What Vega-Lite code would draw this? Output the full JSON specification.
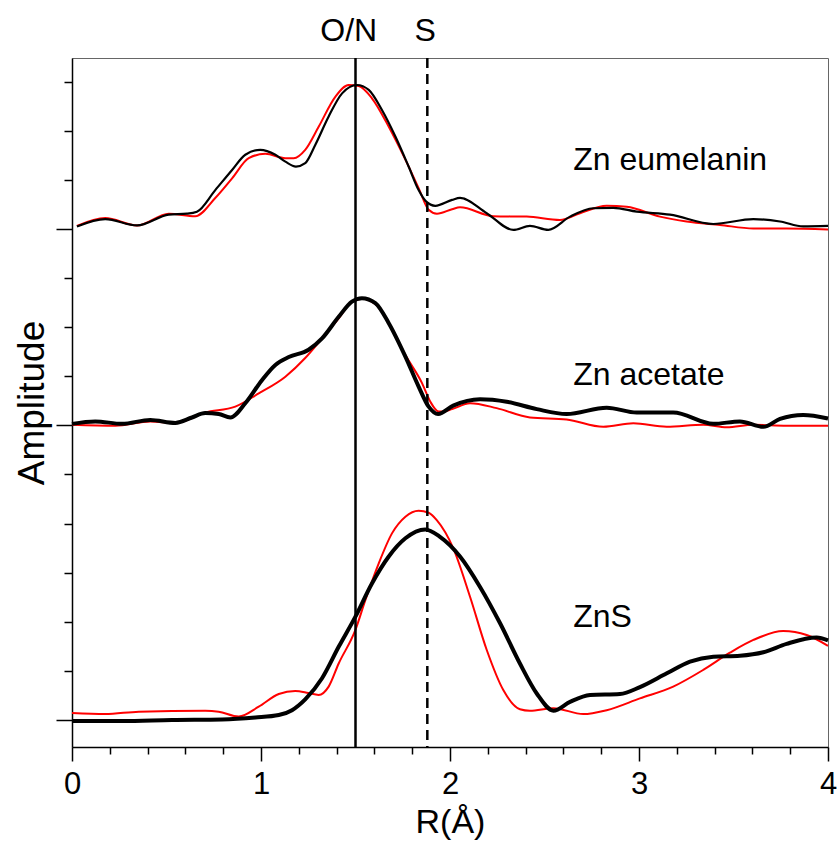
{
  "$schema": "https://vega.github.io/schema/vega-lite/v6.json",
  "width": 756,
  "height": 689,
  "autosize": {"type": "none"},
  "padding": {"left": 72, "top": 58, "right": 10, "bottom": 96},
  "config": {"font": "Liberation Sans", "view": {"stroke": "#666", "strokeWidth": 1}},
  "datasets": {
    "curves": [
      {"s":"eumelanin","k":"data","r":0.026,"a":10.05},{"s":"eumelanin","k":"data","r":0.176,"a":10.20},{"s":"eumelanin","k":"data","r":0.344,"a":10.07},{"s":"eumelanin","k":"data","r":0.512,"a":10.29},{"s":"eumelanin","k":"data","r":0.608,"a":10.31},{"s":"eumelanin","k":"data","r":0.661,"a":10.35},{"s":"eumelanin","k":"data","r":0.758,"a":10.79},{"s":"eumelanin","k":"data","r":0.847,"a":11.20},{"s":"eumelanin","k":"data","r":0.917,"a":11.51},{"s":"eumelanin","k":"data","r":0.996,"a":11.61},{"s":"eumelanin","k":"data","r":1.076,"a":11.51},{"s":"eumelanin","k":"data","r":1.129,"a":11.37},{"s":"eumelanin","k":"data","r":1.185,"a":11.27},{"s":"eumelanin","k":"data","r":1.234,"a":11.34},{"s":"eumelanin","k":"data","r":1.287,"a":11.71},{"s":"eumelanin","k":"data","r":1.358,"a":12.29},{"s":"eumelanin","k":"data","r":1.429,"a":12.76},{"s":"eumelanin","k":"data","r":1.508,"a":12.93},{"s":"eumelanin","k":"data","r":1.570,"a":12.83},{"s":"eumelanin","k":"data","r":1.640,"a":12.42},{"s":"eumelanin","k":"data","r":1.711,"a":11.88},{"s":"eumelanin","k":"data","r":1.781,"a":11.27},{"s":"eumelanin","k":"data","r":1.834,"a":10.79},{"s":"eumelanin","k":"data","r":1.873,"a":10.56},{"s":"eumelanin","k":"data","r":1.922,"a":10.47},{"s":"eumelanin","k":"data","r":2.011,"a":10.59},{"s":"eumelanin","k":"data","r":2.053,"a":10.63},{"s":"eumelanin","k":"data","r":2.194,"a":10.32},{"s":"eumelanin","k":"data","r":2.335,"a":9.98},{"s":"eumelanin","k":"data","r":2.423,"a":10.06},{"s":"eumelanin","k":"data","r":2.520,"a":9.98},{"s":"eumelanin","k":"data","r":2.635,"a":10.25},{"s":"eumelanin","k":"data","r":2.758,"a":10.42},{"s":"eumelanin","k":"data","r":2.864,"a":10.43},{"s":"eumelanin","k":"data","r":2.988,"a":10.35},{"s":"eumelanin","k":"data","r":3.164,"a":10.29},{"s":"eumelanin","k":"data","r":3.393,"a":10.10},{"s":"eumelanin","k":"data","r":3.605,"a":10.20},{"s":"eumelanin","k":"data","r":3.746,"a":10.15},{"s":"eumelanin","k":"data","r":3.869,"a":10.05},{"s":"eumelanin","k":"data","r":4.0,"a":10.06},
      {"s":"eumelanin","k":"fit","r":0.026,"a":10.06},{"s":"eumelanin","k":"fit","r":0.176,"a":10.22},{"s":"eumelanin","k":"fit","r":0.344,"a":10.07},{"s":"eumelanin","k":"fit","r":0.512,"a":10.31},{"s":"eumelanin","k":"fit","r":0.652,"a":10.26},{"s":"eumelanin","k":"fit","r":0.758,"a":10.63},{"s":"eumelanin","k":"fit","r":0.847,"a":11.03},{"s":"eumelanin","k":"fit","r":0.935,"a":11.44},{"s":"eumelanin","k":"fit","r":1.023,"a":11.53},{"s":"eumelanin","k":"fit","r":1.129,"a":11.44},{"s":"eumelanin","k":"fit","r":1.173,"a":11.44},{"s":"eumelanin","k":"fit","r":1.234,"a":11.61},{"s":"eumelanin","k":"fit","r":1.305,"a":12.08},{"s":"eumelanin","k":"fit","r":1.393,"a":12.69},{"s":"eumelanin","k":"fit","r":1.464,"a":12.93},{"s":"eumelanin","k":"fit","r":1.517,"a":12.91},{"s":"eumelanin","k":"fit","r":1.587,"a":12.66},{"s":"eumelanin","k":"fit","r":1.676,"a":12.08},{"s":"eumelanin","k":"fit","r":1.764,"a":11.41},{"s":"eumelanin","k":"fit","r":1.834,"a":10.83},{"s":"eumelanin","k":"fit","r":1.887,"a":10.39},{"s":"eumelanin","k":"fit","r":1.931,"a":10.31},{"s":"eumelanin","k":"fit","r":2.011,"a":10.40},{"s":"eumelanin","k":"fit","r":2.053,"a":10.44},{"s":"eumelanin","k":"fit","r":2.229,"a":10.26},{"s":"eumelanin","k":"fit","r":2.406,"a":10.25},{"s":"eumelanin","k":"fit","r":2.582,"a":10.18},{"s":"eumelanin","k":"fit","r":2.688,"a":10.32},{"s":"eumelanin","k":"fit","r":2.829,"a":10.47},{"s":"eumelanin","k":"fit","r":2.935,"a":10.45},{"s":"eumelanin","k":"fit","r":3.111,"a":10.25},{"s":"eumelanin","k":"fit","r":3.252,"a":10.15},{"s":"eumelanin","k":"fit","r":3.429,"a":10.08},{"s":"eumelanin","k":"fit","r":3.605,"a":10.01},{"s":"eumelanin","k":"fit","r":3.781,"a":10.01},{"s":"eumelanin","k":"fit","r":4.0,"a":9.99},
      {"s":"acetate","k":"data","r":0,"a":6.03},{"s":"acetate","k":"data","r":0.123,"a":6.08},{"s":"acetate","k":"data","r":0.265,"a":6.03},{"s":"acetate","k":"data","r":0.414,"a":6.11},{"s":"acetate","k":"data","r":0.547,"a":6.05},{"s":"acetate","k":"data","r":0.635,"a":6.16},{"s":"acetate","k":"data","r":0.705,"a":6.25},{"s":"acetate","k":"data","r":0.776,"a":6.23},{"s":"acetate","k":"data","r":0.838,"a":6.16},{"s":"acetate","k":"data","r":0.917,"a":6.45},{"s":"acetate","k":"data","r":1.005,"a":6.92},{"s":"acetate","k":"data","r":1.076,"a":7.23},{"s":"acetate","k":"data","r":1.147,"a":7.39},{"s":"acetate","k":"data","r":1.252,"a":7.54},{"s":"acetate","k":"data","r":1.323,"a":7.77},{"s":"acetate","k":"data","r":1.411,"a":8.21},{"s":"acetate","k":"data","r":1.481,"a":8.52},{"s":"acetate","k":"data","r":1.534,"a":8.59},{"s":"acetate","k":"data","r":1.605,"a":8.49},{"s":"acetate","k":"data","r":1.676,"a":8.08},{"s":"acetate","k":"data","r":1.764,"a":7.40},{"s":"acetate","k":"data","r":1.834,"a":6.79},{"s":"acetate","k":"data","r":1.887,"a":6.38},{"s":"acetate","k":"data","r":1.937,"a":6.23},{"s":"acetate","k":"data","r":2.017,"a":6.40},{"s":"acetate","k":"data","r":2.159,"a":6.53},{"s":"acetate","k":"data","r":2.300,"a":6.48},{"s":"acetate","k":"data","r":2.459,"a":6.33},{"s":"acetate","k":"data","r":2.617,"a":6.23},{"s":"acetate","k":"data","r":2.829,"a":6.36},{"s":"acetate","k":"data","r":2.988,"a":6.26},{"s":"acetate","k":"data","r":3.181,"a":6.26},{"s":"acetate","k":"data","r":3.393,"a":6.03},{"s":"acetate","k":"data","r":3.534,"a":6.08},{"s":"acetate","k":"data","r":3.658,"a":5.97},{"s":"acetate","k":"data","r":3.746,"a":6.13},{"s":"acetate","k":"data","r":3.869,"a":6.21},{"s":"acetate","k":"data","r":4.0,"a":6.14},
      {"s":"acetate","k":"fit","r":0,"a":6.01},{"s":"acetate","k":"fit","r":0.229,"a":5.99},{"s":"acetate","k":"fit","r":0.414,"a":6.08},{"s":"acetate","k":"fit","r":0.547,"a":6.05},{"s":"acetate","k":"fit","r":0.705,"a":6.26},{"s":"acetate","k":"fit","r":0.864,"a":6.38},{"s":"acetate","k":"fit","r":0.988,"a":6.65},{"s":"acetate","k":"fit","r":1.129,"a":6.99},{"s":"acetate","k":"fit","r":1.234,"a":7.37},{"s":"acetate","k":"fit","r":1.323,"a":7.77},{"s":"acetate","k":"fit","r":1.411,"a":8.18},{"s":"acetate","k":"fit","r":1.481,"a":8.52},{"s":"acetate","k":"fit","r":1.534,"a":8.58},{"s":"acetate","k":"fit","r":1.605,"a":8.47},{"s":"acetate","k":"fit","r":1.676,"a":8.08},{"s":"acetate","k":"fit","r":1.764,"a":7.43},{"s":"acetate","k":"fit","r":1.852,"a":6.86},{"s":"acetate","k":"fit","r":1.896,"a":6.48},{"s":"acetate","k":"fit","r":1.940,"a":6.28},{"s":"acetate","k":"fit","r":1.965,"a":6.28},{"s":"acetate","k":"fit","r":2.011,"a":6.33},{"s":"acetate","k":"fit","r":2.106,"a":6.45},{"s":"acetate","k":"fit","r":2.247,"a":6.35},{"s":"acetate","k":"fit","r":2.423,"a":6.16},{"s":"acetate","k":"fit","r":2.617,"a":6.12},{"s":"acetate","k":"fit","r":2.811,"a":5.97},{"s":"acetate","k":"fit","r":2.970,"a":6.04},{"s":"acetate","k":"fit","r":3.146,"a":5.97},{"s":"acetate","k":"fit","r":3.340,"a":6.01},{"s":"acetate","k":"fit","r":3.464,"a":5.96},{"s":"acetate","k":"fit","r":3.605,"a":6.01},{"s":"acetate","k":"fit","r":3.781,"a":5.99},{"s":"acetate","k":"fit","r":4.0,"a":5.99},
      {"s":"ZnS","k":"data","r":0,"a":-0.02},{"s":"ZnS","k":"data","r":0.265,"a":-0.02},{"s":"ZnS","k":"data","r":0.529,"a":0.0},{"s":"ZnS","k":"data","r":0.794,"a":0.01},{"s":"ZnS","k":"data","r":0.970,"a":0.05},{"s":"ZnS","k":"data","r":1.094,"a":0.10},{"s":"ZnS","k":"data","r":1.164,"a":0.20},{"s":"ZnS","k":"data","r":1.234,"a":0.42},{"s":"ZnS","k":"data","r":1.323,"a":0.85},{"s":"ZnS","k":"data","r":1.411,"a":1.49},{"s":"ZnS","k":"data","r":1.499,"a":2.10},{"s":"ZnS","k":"data","r":1.587,"a":2.78},{"s":"ZnS","k":"data","r":1.676,"a":3.33},{"s":"ZnS","k":"data","r":1.764,"a":3.70},{"s":"ZnS","k":"data","r":1.869,"a":3.88},{"s":"ZnS","k":"data","r":1.947,"a":3.73},{"s":"ZnS","k":"data","r":2.053,"a":3.33},{"s":"ZnS","k":"data","r":2.159,"a":2.71},{"s":"ZnS","k":"data","r":2.265,"a":1.97},{"s":"ZnS","k":"data","r":2.370,"a":1.15},{"s":"ZnS","k":"data","r":2.459,"a":0.54},{"s":"ZnS","k":"data","r":2.547,"a":0.19},{"s":"ZnS","k":"data","r":2.635,"a":0.37},{"s":"ZnS","k":"data","r":2.741,"a":0.51},{"s":"ZnS","k":"data","r":2.899,"a":0.53},{"s":"ZnS","k":"data","r":3.005,"a":0.67},{"s":"ZnS","k":"data","r":3.147,"a":0.95},{"s":"ZnS","k":"data","r":3.270,"a":1.19},{"s":"ZnS","k":"data","r":3.393,"a":1.29},{"s":"ZnS","k":"data","r":3.534,"a":1.31},{"s":"ZnS","k":"data","r":3.658,"a":1.38},{"s":"ZnS","k":"data","r":3.781,"a":1.55},{"s":"ZnS","k":"data","r":3.940,"a":1.68},{"s":"ZnS","k":"data","r":4.0,"a":1.62},
      {"s":"ZnS","k":"fit","r":0,"a":0.14},{"s":"ZnS","k":"fit","r":0.176,"a":0.12},{"s":"ZnS","k":"fit","r":0.353,"a":0.17},{"s":"ZnS","k":"fit","r":0.705,"a":0.19},{"s":"ZnS","k":"fit","r":0.776,"a":0.17},{"s":"ZnS","k":"fit","r":0.882,"a":0.07},{"s":"ZnS","k":"fit","r":0.988,"a":0.27},{"s":"ZnS","k":"fit","r":1.094,"a":0.53},{"s":"ZnS","k":"fit","r":1.181,"a":0.59},{"s":"ZnS","k":"fit","r":1.250,"a":0.55},{"s":"ZnS","k":"fit","r":1.305,"a":0.51},{"s":"ZnS","k":"fit","r":1.358,"a":0.68},{"s":"ZnS","k":"fit","r":1.411,"a":1.15},{"s":"ZnS","k":"fit","r":1.499,"a":1.83},{"s":"ZnS","k":"fit","r":1.552,"a":2.44},{"s":"ZnS","k":"fit","r":1.623,"a":3.19},{"s":"ZnS","k":"fit","r":1.693,"a":3.80},{"s":"ZnS","k":"fit","r":1.764,"a":4.14},{"s":"ZnS","k":"fit","r":1.834,"a":4.26},{"s":"ZnS","k":"fit","r":1.887,"a":4.22},{"s":"ZnS","k":"fit","r":1.930,"a":4.07},{"s":"ZnS","k":"fit","r":2.017,"a":3.50},{"s":"ZnS","k":"fit","r":2.106,"a":2.51},{"s":"ZnS","k":"fit","r":2.194,"a":1.43},{"s":"ZnS","k":"fit","r":2.282,"a":0.61},{"s":"ZnS","k":"fit","r":2.370,"a":0.22},{"s":"ZnS","k":"fit","r":2.423,"a":0.19},{"s":"ZnS","k":"fit","r":2.547,"a":0.24},{"s":"ZnS","k":"fit","r":2.705,"a":0.12},{"s":"ZnS","k":"fit","r":2.829,"a":0.20},{"s":"ZnS","k":"fit","r":3.005,"a":0.44},{"s":"ZnS","k":"fit","r":3.181,"a":0.68},{"s":"ZnS","k":"fit","r":3.340,"a":1.02},{"s":"ZnS","k":"fit","r":3.481,"a":1.37},{"s":"ZnS","k":"fit","r":3.605,"a":1.63},{"s":"ZnS","k":"fit","r":3.763,"a":1.81},{"s":"ZnS","k":"fit","r":3.887,"a":1.73},{"s":"ZnS","k":"fit","r":4.0,"a":1.51}
    ],
    "markers": [{"name":"O/N","r":1.5},{"name":"S","r":1.88}],
    "toplabels": [{"t":"O/N","r":1.464,"a":13.83},{"t":"S","r":1.868,"a":13.83}],
    "names": [{"t":"Zn eumelanin","r":2.652,"a":11.20},{"t":"Zn acetate","r":2.652,"a":6.82},{"t":"ZnS","r":2.652,"a":1.90}]
  },
  "layer": [
    {
      "data": {"name": "curves"},
      "transform": [{"filter": "datum.k === 'fit'"}],
      "mark": {"type": "line", "color": "#ff0000", "strokeWidth": 2, "interpolate": "monotone"},
      "encoding": {
        "x": {"field": "r", "type": "quantitative", "scale": {"domain": [0, 4], "nice": false, "zero": false},
          "axis": {"title": "R(Å)", "values": [0,0.2,0.4,0.6,0.8,1,1.2,1.4,1.6,1.8,2,2.2,2.4,2.6,2.8,3,3.2,3.4,3.6,3.8,4],
            "tickCount": 40,
            "labelExpr": "datum.value % 1 === 0 ? format(datum.value, 'd') : ''",
            "tickSize": {"condition": {"test": "datum.value % 1 === 0", "value": 14}, "value": 7},
            "tickWidth": 1.5, "tickColor": "black", "domainColor": "black", "domainWidth": 1.5,
            "labelFontSize": 31, "labelColor": "black", "labelPadding": 8, "labelFlush": false, "labelOverlap": false,
            "titleFontSize": 34, "titleFontWeight": "normal", "titleColor": "black", "titlePadding": 6, "grid": false}},
        "y": {"field": "a", "type": "quantitative", "scale": {"domain": [-0.55, 13.48], "nice": false, "zero": false},
          "axis": {"title": "Amplitude", "values": [0,1,2,3,4,5,6,7,8,9,10,11,12,13], "tickCount": 40, "labels": false,
            "tickSize": {"condition": {"test": "datum.value === 0 || datum.value === 6 || datum.value === 10", "value": 16}, "value": 8},
            "tickWidth": 1.5, "tickColor": "black", "domainColor": "black", "domainWidth": 1.5,
            "titleFontSize": 37, "titleFontWeight": "normal", "titleColor": "black", "titlePadding": 4, "grid": false}},
        "detail": {"field": "s"}
      }
    },
    {
      "data": {"name": "curves"},
      "transform": [{"filter": "datum.k === 'data' && datum.s === 'eumelanin'"}],
      "mark": {"type": "line", "color": "black", "strokeWidth": 2.2, "interpolate": "monotone"},
      "encoding": {
        "x": {"field": "r", "type": "quantitative"},
        "y": {"field": "a", "type": "quantitative"}
      }
    },
    {
      "data": {"name": "curves"},
      "transform": [{"filter": "datum.k === 'data' && datum.s !== 'eumelanin'"}],
      "mark": {"type": "line", "color": "black", "strokeWidth": 4, "interpolate": "monotone"},
      "encoding": {
        "x": {"field": "r", "type": "quantitative"},
        "y": {"field": "a", "type": "quantitative"},
        "detail": {"field": "s"}
      }
    },
    {
      "data": {"name": "markers"},
      "mark": {"type": "rule", "color": "black", "strokeWidth": 2.5},
      "encoding": {
        "x": {"field": "r", "type": "quantitative"},
        "strokeDash": {"field": "name", "type": "nominal", "scale": {"domain": ["O/N", "S"], "range": [[1, 0], [10, 6]]}, "legend": null}
      }
    },
    {
      "data": {"name": "toplabels"},
      "mark": {"type": "text", "fontSize": 32, "align": "center", "baseline": "alphabetic", "color": "black"},
      "encoding": {
        "x": {"field": "r", "type": "quantitative"},
        "y": {"field": "a", "type": "quantitative"},
        "text": {"field": "t"}
      }
    },
    {
      "data": {"name": "names"},
      "mark": {"type": "text", "fontSize": 32, "align": "left", "baseline": "alphabetic", "color": "black"},
      "encoding": {
        "x": {"field": "r", "type": "quantitative"},
        "y": {"field": "a", "type": "quantitative"},
        "text": {"field": "t"}
      }
    }
  ]
}
